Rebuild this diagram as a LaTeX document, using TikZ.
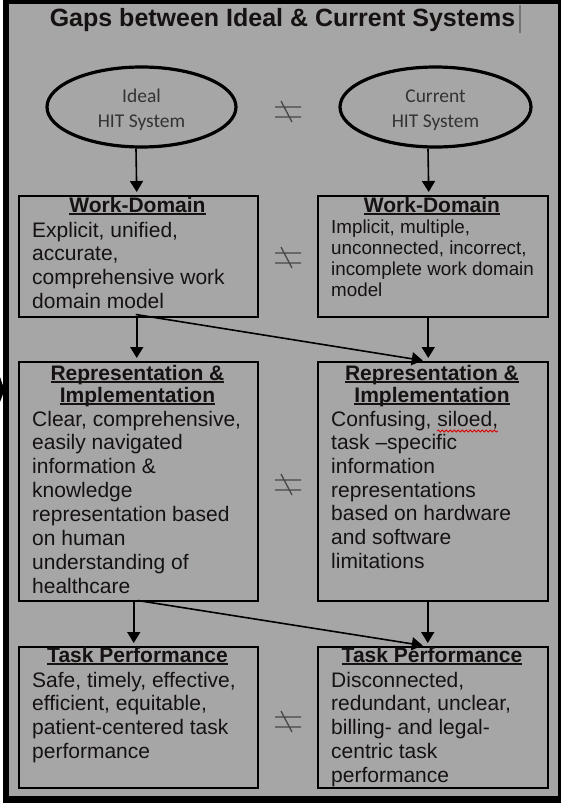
\documentclass[tikz,border=0pt]{standalone}
\usepackage{fontspec}
\setmainfont{Liberation Sans}
\newfontfamily\calfont{Carlito}
\usetikzlibrary{arrows.meta,shapes.geometric,calc,decorations.pathmorphing}
\definecolor{bggray}{RGB}{166,166,166}
\definecolor{neqgray}{RGB}{72,72,72}
\definecolor{txt}{RGB}{22,18,18}
\newcommand\myul[1]{\leavevmode\setbox0\hbox{#1}\rlap{\rule[-2.6pt]{\wd0}{1.3pt}}\box0}
\newcommand\bodypar[1]{\parbox[t]{222pt}{\raggedright #1}}
\newcommand\headpar[1]{\parbox[t]{230pt}{\centering #1}}
\begin{document}
\begin{tikzpicture}[x=1pt,y=-1pt,
  panel/.style={draw=black,line width=1.5pt,inner sep=0pt,anchor=north west},
  oval/.style={ellipse,draw=black,line width=3.2pt,inner sep=0pt},
  ovaltext/.style={font=\calfont\fontsize{19.5}{25}\selectfont,text=black!80,align=center},
  head/.style={font=\fontsize{21}{22}\selectfont\bfseries,text=txt,anchor=base,inner sep=0pt},
  body/.style={font=\fontsize{21}{23.8}\selectfont,text=txt,anchor=base west,inner sep=0pt},
  arr/.style={line width=1.6pt,-{Triangle[length=11pt,width=13pt]},shorten >=3pt},
  neq/.pic={\draw[neqgray,line width=1.3pt] (-13,-5)--(13,-5) (-13,5)--(13,5) (-7,-11)--(4,10);}
]
\useasboundingbox (0,0) rectangle (564,803);
% frame
\fill[white] (0,0) rectangle (564,803);
\fill[black] (3,0) rectangle (561,803);
\fill[bggray] (9,3.5) rectangle (557.5,796);
\fill[black] (0,377) -- (4.5,390) -- (0,402) -- cycle;
% title
\node[font=\fontsize{25}{30}\selectfont\bfseries,text=txt,anchor=base,inner sep=0pt] (title) at (282.5,26) {Gaps between Ideal \& Current Systems};
\draw[black!55,line width=1.8pt] (520,5) -- (520,33);
% ellipses
\node[oval,minimum width=189pt,minimum height=80pt] (ideal) at (141.5,107) {};
\node[oval,minimum width=191pt,minimum height=80pt] (cur) at (435.5,107) {};
\node[ovaltext] (idealt) at (141.5,110) {Ideal\\HIT System};
\node[ovaltext] (curt) at (435.5,110) {Current\\HIT System};
% boxes
\node[panel,minimum width=239pt,minimum height=121pt] (wdL) at (18,195) {};
\node[panel,minimum width=230pt,minimum height=121pt] (wdR) at (317,195) {};
\node[panel,minimum width=239pt,minimum height=239pt] (repL) at (18,361) {};
\node[panel,minimum width=230pt,minimum height=239pt] (repR) at (317,361) {};
\node[panel,minimum width=239pt,minimum height=141pt] (taskL) at (18,646) {};
\node[panel,minimum width=230pt,minimum height=141pt] (taskR) at (317,646) {};
% box texts
\node[head] (wdLh) at (137.5,212) {\myul{Work-Domain}};
\node[head] (wdRh) at (432,212) {\myul{Work-Domain}};
\node[body] (wdLb) at (32,237) {\bodypar{Explicit, unified,\\accurate,\\comprehensive work\\domain model}};
\node[body,font=\fontsize{18.8}{21.3}\selectfont] (wdRb) at (331,233) {\bodypar{Implicit, multiple,\\unconnected, incorrect,\\incomplete work domain\\model}};
\node[head] (repLh) at (137.5,380) {\headpar{\myul{Representation \&}\\\myul{Implementation}}};
\node[head] (repRh) at (432,380) {\headpar{\myul{Representation \&}\\\myul{Implementation}}};
\node[body,font=\fontsize{21}{23.9}\selectfont] (repLb) at (32,426) {\bodypar{Clear, comprehensive,\\easily navigated\\information \&\\knowledge\\representation based\\on human\\understanding of\\healthcare}};
\node[body,font=\fontsize{21}{23.7}\selectfont] (repRb) at (331,426) {\bodypar{Confusing, siloed,\\task --specific\\information\\representations\\based on hardware\\and software\\limitations}};
\draw[red!85!black,line width=0.8pt,decorate,decoration={snake,segment length=4pt,amplitude=1.1pt}] (437,431) -- (498,431);
\node[head] (taskLh) at (137.5,662) {\myul{Task Performance}};
\node[head] (taskRh) at (432,662) {\myul{Task Performance}};
\node[body,font=\fontsize{21}{23.7}\selectfont] (taskLb) at (32,687) {\bodypar{Safe, timely, effective,\\efficient, equitable,\\patient-centered task\\performance}};
\node[body,font=\fontsize{21}{23.75}\selectfont] (taskRb) at (331,687) {\bodypar{Disconnected,\\redundant, unclear,\\billing- and legal-\\centric task\\performance}};
% not-equal signs
\pic at (288,112) {neq};
\pic at (288,258) {neq};
\pic at (288,485) {neq};
\pic at (288,722) {neq};
% arrows
\draw[arr] ($(ideal.south)+(-5.5,0)$) -- ($(wdL.north)+(-1.5,0)$);
\draw[arr] ($(cur.south)+(-7.5,0)$) -- ($(wdR.north)+(-4,0)$);
\draw[arr] ($(wdL.south)+(-1.5,0)$) -- ($(repL.north)+(-1.5,0)$);
\draw[arr] ($(wdR.south)+(-4.5,0)$) -- ($(repR.north)+(-4.5,0)$);
\draw[arr] ($(wdL.south)+(-2.5,-3)$) -- ($(repR.north)+(-7,0)$);
\draw[arr] ($(repL.south)+(-4.5,0)$) -- ($(taskL.north)+(-4.5,0)$);
\draw[arr] ($(repR.south)+(-5,0)$) -- ($(taskR.north)+(-5,0)$);
\draw[arr] ($(repL.south)+(-0.5,-1)$) -- ($(taskR.north)+(-7,0)$);
\end{tikzpicture}
\end{document}
